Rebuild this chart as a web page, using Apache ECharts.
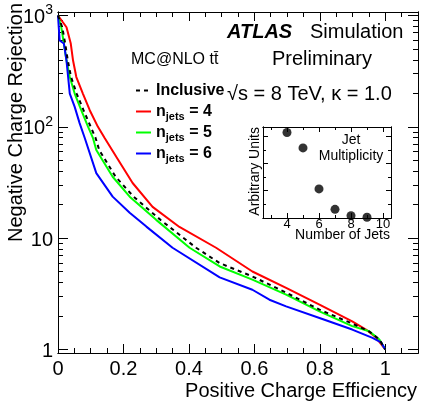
<!DOCTYPE html>
<html><head><meta charset="utf-8">
<script src="https://cdn.jsdelivr.net/npm/echarts@6/dist/echarts.min.js"></script>
<style>html,body{margin:0;padding:0;background:#fff}#c{width:423px;height:402px}</style>
</head><body><div id="c"></div>
<script>
const FONT = '"Liberation Sans", Arial, Helvetica, sans-serif';

// ---- Data ----
const inclusiveEff = [0, 0.013, 0.022, 0.030, 0.040, 0.057, 0.078, 0.100, 0.115, 0.126, 0.176, 0.231, 0.313, 0.422, 0.494, 0.594, 0.697, 0.799, 0.899, 0.951, 0.982, 1.0];
const inclusiveRej = [1000, 784, 560, 394, 280, 199, 141, 100, 79, 61.8, 35.6, 23.6, 14.6, 8.2, 5.97, 4.53, 3.24, 2.28, 1.71, 1.45, 1.23, 1.0];

const nj4Eff = [0, 0.026, 0.039, 0.046, 0.056, 0.076, 0.097, 0.122, 0.143, 0.178, 0.228, 0.289, 0.371, 0.483, 0.594, 0.697, 0.799, 0.899, 0.941, 0.972, 0.992, 1.0];
const nj4Rej = [1000, 784, 560, 394, 280, 199, 141, 100, 79, 53.8, 31.3, 19.1, 12.6, 8.2, 5.02, 3.57, 2.53, 1.79, 1.51, 1.28, 1.07, 1.0];

const nj5Eff = [0, 0.010, 0.018, 0.026, 0.036, 0.051, 0.071, 0.092, 0.107, 0.117, 0.167, 0.219, 0.300, 0.402, 0.494, 0.594, 0.697, 0.799, 0.899, 0.951, 0.982, 1.0];
const nj5Rej = [1000, 784, 560, 394, 280, 199, 141, 100, 79, 61.8, 35.6, 23.6, 14.6, 8.2, 5.57, 4.24, 3.11, 2.20, 1.62, 1.46, 1.23, 1.0];

const nj6Eff = [0, 0.002, 0.005, 0.011, 0.018, 0.026, 0.031, 0.036, 0.051, 0.066, 0.082, 0.117, 0.167, 0.219, 0.270, 0.350, 0.494, 0.594, 0.646, 0.697, 0.799, 0.899, 0.961, 0.987, 1.0];
const nj6Rej = [1000, 812, 596, 576, 560, 394, 280, 199, 151, 108, 79, 38.4, 23.6, 16.9, 12.7, 8.2, 4.44, 3.44, 2.80, 2.44, 1.92, 1.51, 1.27, 1.16, 1.0];

// inset: jet multiplicity (arbitrary units)
const jetCounts = [4, 5, 6, 7, 8, 9];
const jetFractions = [0.94, 0.77, 0.32, 0.095, 0.025, 0.008];

// tick values / labels
const xMajorTicks = [0, 0.2, 0.4, 0.6, 0.8, 1.0];
const xMinorTicks = [0.05, 0.1, 0.15, 0.25, 0.3, 0.35, 0.45, 0.5, 0.55, 0.65, 0.7, 0.75, 0.85, 0.9, 0.95, 1.05];
const yMajorTicks = [1, 10, 100, 1000];
const yMinorTicks = [2,3,4,5,6,7,8,9,20,30,40,50,60,70,80,90,200,300,400,500,600,700,800,900];
const insetXMajor = [4, 6, 8, 10];
const insetXMinor = [3, 5, 7, 9];
const insetYMajor = [0, 0.3, 0.6, 0.9];
const insetYMinor = [0.15, 0.45, 0.75];

const seriesNames = ['Inclusive', 'n_jets = 4', 'n_jets = 5', 'n_jets = 6'];

const zip = (a, b) => a.map((v, i) => [v, b[i]]);
const black = '#000';

function xAxisDef(pos, ticks, len, labels, gridIndex, min, max, lblSize, lblMargin) {
  return {
    type: 'value', gridIndex, position: pos, min, max,
    axisLine: { show: true, onZero: false, lineStyle: { color: black, width: 1 } },
    axisTick: { show: true, inside: true, length: len, customValues: ticks, lineStyle: { color: black, width: 1 } },
    axisLabel: labels ? { show: true, customValues: ticks, fontFamily: FONT, fontSize: lblSize, color: black, margin: lblMargin } : { show: false },
    splitLine: { show: false }
  };
}
function yAxisDef(type, pos, ticks, len, labels, gridIndex, min, max) {
  const a = {
    type, gridIndex, position: pos, min, max,
    axisLine: { show: true, onZero: false, lineStyle: { color: black, width: 1 } },
    axisTick: { show: true, inside: true, length: len, customValues: ticks, lineStyle: { color: black, width: 1 } },
    axisLabel: { show: false },
    splitLine: { show: false }
  };
  if (type === 'log') a.logBase = 10;
  if (labels) a.axisLabel = labels;
  return a;
}

const yLabel = {
  show: true, customValues: yMajorTicks, margin: 5,
  formatter: v => {
    const e = Math.round(Math.log10(v));
    if (e === 0) return '{n|1}';
    if (e === 1) return '{n|10}';
    return '{n|10}{e|' + e + '}';
  },
  rich: {
    n: { fontFamily: FONT, fontSize: 20, color: black, lineHeight: 24, verticalAlign: 'bottom' },
    e: { fontFamily: FONT, fontSize: 14, color: black, lineHeight: 14, verticalAlign: 'top' }
  }
};

const YMIN = 0.93, YMAX = 1075;

const option = {
  animation: false,
  backgroundColor: '#fff',
  grid: [
    { left: 58, right: 5, top: 12, bottom: 49 },
    { left: 263, top: 127, width: 128, height: 91 }
  ],
  xAxis: [
    xAxisDef('bottom', xMajorTicks, 9, true, 0, 0, 1.1, 20, 6),
    xAxisDef('bottom', xMinorTicks, 5, false, 0, 0, 1.1),
    xAxisDef('top', xMajorTicks, 9, false, 0, 0, 1.1),
    xAxisDef('top', xMinorTicks, 5, false, 0, 0, 1.1),
    xAxisDef('bottom', insetXMajor, 5, true, 1, 2.5, 10.5, 13, 0),
    xAxisDef('bottom', insetXMinor, 3, false, 1, 2.5, 10.5),
    xAxisDef('top', insetXMajor, 5, false, 1, 2.5, 10.5),
    xAxisDef('top', insetXMinor, 3, false, 1, 2.5, 10.5)
  ],
  yAxis: [
    yAxisDef('log', 'left', yMajorTicks, 10, yLabel, 0, YMIN, YMAX),
    yAxisDef('log', 'left', yMinorTicks, 5, null, 0, YMIN, YMAX),
    yAxisDef('log', 'right', yMajorTicks, 10, null, 0, YMIN, YMAX),
    yAxisDef('log', 'right', yMinorTicks, 5, null, 0, YMIN, YMAX),
    yAxisDef('value', 'left', insetYMajor, 5, null, 1, 0, 1),
    yAxisDef('value', 'left', insetYMinor, 3, null, 1, 0, 1),
    yAxisDef('value', 'right', insetYMajor, 5, null, 1, 0, 1),
    yAxisDef('value', 'right', insetYMinor, 3, null, 1, 0, 1)
  ],
  legend: {
    left: 130, top: 75, orient: 'vertical', selectedMode: false,
    itemWidth: 15, itemHeight: 10, itemGap: 0,
    data: seriesNames,
    lineStyle: { width: 2 },
    itemStyle: { opacity: 0 },
    formatter: name => {
      if (name === 'Inclusive') return '{b|Inclusive}';
      const parts = name.split(' = ');
      return '{b|n}{s|jets}{b| = ' + parts[1] + '}';
    },
    textStyle: {
      fontFamily: FONT, fontSize: 16, fontWeight: 'bold', color: black, padding: 0, lineHeight: 21,
      rich: {
        b: { fontFamily: FONT, fontSize: 16, fontWeight: 'bold', color: black, lineHeight: 21, verticalAlign: 'middle' },
        s: { fontFamily: FONT, fontSize: 11, fontWeight: 'bold', color: black, lineHeight: 11, verticalAlign: 'bottom' }
      }
    }
  },
  series: [
    { name: 'n_jets = 4', type: 'line', xAxisIndex: 0, yAxisIndex: 0, symbol: 'none', data: zip(nj4Eff, nj4Rej), lineStyle: { color: '#ff0000', width: 2 }, itemStyle: { color: '#ff0000' }, z: 2 },
    { name: 'n_jets = 5', type: 'line', xAxisIndex: 0, yAxisIndex: 0, symbol: 'none', data: zip(nj5Eff, nj5Rej), lineStyle: { color: '#00ff00', width: 2 }, itemStyle: { color: '#00ff00' }, z: 2 },
    { name: 'n_jets = 6', type: 'line', xAxisIndex: 0, yAxisIndex: 0, symbol: 'none', data: zip(nj6Eff, nj6Rej), lineStyle: { color: '#0000ff', width: 2 }, itemStyle: { color: '#0000ff' }, z: 2 },
    { name: 'Inclusive', type: 'line', xAxisIndex: 0, yAxisIndex: 0, symbol: 'none', data: zip(inclusiveEff, inclusiveRej), lineStyle: { color: black, width: 2, type: [4, 4] }, itemStyle: { color: black }, z: 3 },
    { name: 'Jet multiplicity', type: 'scatter', xAxisIndex: 4, yAxisIndex: 4, symbol: 'circle', symbolSize: 9, data: zip(jetCounts, jetFractions), itemStyle: { color: black }, z: 4 }
  ],
  graphic: [
    { type: 'text', left: 227, top: 22, style: { text: 'ATLAS', fontFamily: FONT, fontSize: 20, fontWeight: 'bold', fontStyle: 'italic', fill: black } },
    { type: 'text', left: 310, top: 22, style: { text: 'Simulation', fontFamily: FONT, fontSize: 20, fill: black } },
    { type: 'text', left: 272, top: 49, style: { text: 'Preliminary', fontFamily: FONT, fontSize: 20, fill: black } },
    { type: 'text', left: 227, top: 84, style: { text: '\u221As = 8 TeV, \u03BA = 1.0', fontFamily: FONT, fontSize: 20, fill: black } },
    { type: 'text', left: 131, top: 52, style: { text: 'MC@NLO tt\u0304', fontFamily: FONT, fontSize: 16, fill: black } },
    { type: 'text', right: 6, top: 381, style: { text: 'Positive Charge Efficiency', fontFamily: FONT, fontSize: 20, fill: black } },
    { type: 'text', x: 16, y: 3, rotation: Math.PI / 2, style: { text: 'Negative Charge Rejection', fontFamily: FONT, fontSize: 20, fill: black, align: 'right', verticalAlign: 'middle' } },
    { type: 'text', x: 351, y: 140, style: { text: 'Jet', fontFamily: FONT, fontSize: 14, fill: black, align: 'center', verticalAlign: 'middle' } },
    { type: 'text', x: 351, y: 156, style: { text: 'Multiplicity', fontFamily: FONT, fontSize: 14, fill: black, align: 'center', verticalAlign: 'middle' } },
    { type: 'text', x: 255, y: 127, rotation: Math.PI / 2, style: { text: 'Arbitrary Units', fontFamily: FONT, fontSize: 14, fill: black, align: 'right', verticalAlign: 'middle' } },
    { type: 'text', x: 390, y: 235, style: { text: 'Number of Jets', fontFamily: FONT, fontSize: 14, fill: black, align: 'right', verticalAlign: 'middle' } }
  ]
};

const chart = echarts.init(document.getElementById('c'), null, { renderer: 'canvas' });
chart.setOption(option);
</script>
</body></html>
